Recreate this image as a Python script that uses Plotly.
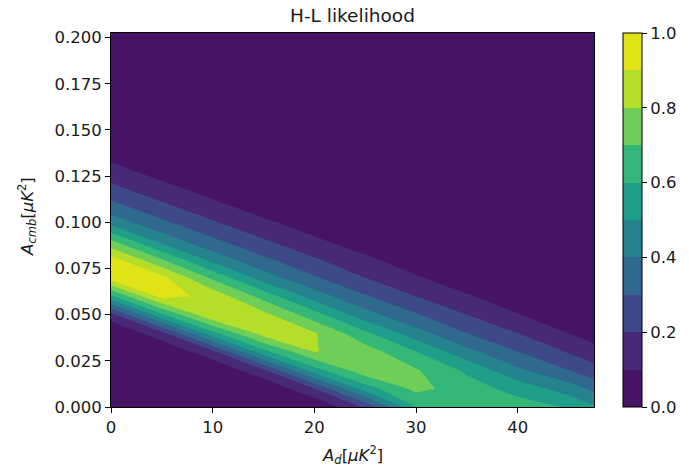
import numpy as np
import plotly.graph_objects as go

# ---- data ----
A_d = [0, 5, 10, 15, 20, 25, 30, 35, 40, 45, 50]                 # x grid
A_cmb = [round(0.01 * j, 2) for j in range(22)]                     # y grid 0.00 .. 0.21

# likelihood profiles, one list per A_d column, listed from A_cmb = 0.00 upward
L_x00 = [0, 0, 0, 0, 0, 0.16, 0.58, 0.95, 0.94, 0.71, 0.46, 0.32, 0.21, 0.12, 0.04, 0, 0, 0, 0, 0, 0, 0]
L_x05 = [0, 0, 0, 0, 0.17, 0.58, 0.94, 0.93, 0.70, 0.46, 0.32, 0.21, 0.12, 0.04, 0, 0, 0, 0, 0, 0, 0, 0]
L_x10 = [0, 0, 0, 0.18, 0.57, 0.895, 0.87, 0.68, 0.46, 0.32, 0.21, 0.12, 0.04, 0, 0, 0, 0, 0, 0, 0, 0, 0]
L_x15 = [0, 0, 0.19, 0.57, 0.85, 0.83, 0.66, 0.45, 0.32, 0.21, 0.12, 0.04, 0, 0, 0, 0, 0, 0, 0, 0, 0, 0]
L_x20 = [0, 0.20, 0.56, 0.805, 0.81, 0.64, 0.45, 0.31, 0.21, 0.12, 0.04, 0, 0, 0, 0, 0, 0, 0, 0, 0, 0, 0]
L_x25 = [0.22, 0.55, 0.77, 0.75, 0.62, 0.44, 0.31, 0.20, 0.12, 0.04, 0, 0, 0, 0, 0, 0, 0, 0, 0, 0, 0, 0]
L_x30 = [0.60, 0.73, 0.71, 0.60, 0.44, 0.31, 0.20, 0.11, 0.04, 0, 0, 0, 0, 0, 0, 0, 0, 0, 0, 0, 0, 0]
L_x35 = [0.67, 0.65, 0.58, 0.43, 0.30, 0.20, 0.11, 0.04, 0, 0, 0, 0, 0, 0, 0, 0, 0, 0, 0, 0, 0, 0]
L_x40 = [0.65, 0.56, 0.42, 0.30, 0.20, 0.105, 0.04, 0, 0, 0, 0, 0, 0, 0, 0, 0, 0, 0, 0, 0, 0, 0]
L_x45 = [0.59, 0.45, 0.30, 0.19, 0.10, 0.03, 0, 0, 0, 0, 0, 0, 0, 0, 0, 0, 0, 0, 0, 0, 0, 0]
L_x50 = [0.44, 0.30, 0.18, 0.09, 0.03, 0, 0, 0, 0, 0, 0, 0, 0, 0, 0, 0, 0, 0, 0, 0, 0, 0]

x_ticks = [0, 10, 20, 30, 40]
y_ticks = [0.0, 0.025, 0.05, 0.075, 0.1, 0.125, 0.15, 0.175, 0.2]
cb_ticks = [0.0, 0.2, 0.4, 0.6, 0.8, 1.0]

columns = [L_x00, L_x05, L_x10, L_x15, L_x20, L_x25, L_x30, L_x35, L_x40, L_x45, L_x50]
z = np.array(columns).T  # rows = A_cmb, cols = A_d

# ---- style ----
band_colors = ["#471365", "#482878", "#3e4989", "#31688e", "#26828e",
               "#1f9e89", "#35b779", "#6ece58", "#b5de2b", "#dfe318"]
start, end, size = 0.0, 1.0, 0.1
n_levels = 11
lo_z, hi_z = start - size / 2, start + (n_levels - 0.5) * size
def s_of(zv):
    return (zv - lo_z) / (hi_z - lo_z)
colorscale = []
for k, c in enumerate(band_colors):
    a = 0.0 if k == 0 else s_of(0.1 * k)
    b = 1.0 if k == len(band_colors) - 1 else s_of(0.1 * (k + 1))
    colorscale.append([a, c])
    colorscale.append([b, c])

FONT = "DejaVu Sans"
TXT = "#1a1a1a"

L, R, T, B = 111, 90, 33, 62
W, H = 689, 469
pw = W - L - R

fig = go.Figure(go.Contour(
    x=A_d, y=A_cmb, z=z,
    zmin=0, zmax=1,
    contours=dict(start=start, end=end, size=size, coloring="fill", showlines=False),
    line=dict(width=0, smoothing=0),
    colorscale=colorscale,
    colorbar=dict(
        thickness=19, thicknessmode="pixels",
        len=1, lenmode="fraction", y=0.5, yanchor="middle",
        x=(628 - L) / pw, xanchor="left", xpad=0, ypad=0,
        outlinewidth=1, outlinecolor="#000000",
        tickvals=cb_ticks, ticktext=[f"{v:.1f}" for v in cb_ticks],
        ticks="outside", ticklen=5, tickwidth=1, tickcolor="#000000",
        tickfont=dict(family=FONT, size=16.5, color=TXT),
    ),
    hoverinfo="skip",
))

axis_common = dict(
    showgrid=False, zeroline=False,
    showline=True, mirror=True, linecolor="#000000", linewidth=1,
    ticks="outside", ticklen=5, tickwidth=1, tickcolor="#000000",
    tickfont=dict(family=FONT, size=16.5, color=TXT),
)

fig.update_layout(
    width=W, height=H,
    margin=dict(l=L, r=R, t=T, b=B, pad=0),
    paper_bgcolor="white", plot_bgcolor="white",
    showlegend=False,
    xaxis=dict(range=[0, 47.5], tickvals=x_ticks, ticktext=[str(v) for v in x_ticks], **axis_common),
    yaxis=dict(range=[0, 0.2025], tickvals=y_ticks, ticktext=[f"{v:.3f}" for v in y_ticks], **axis_common),
    annotations=[
        dict(text="H-L likelihood", xref="paper", yref="paper", x=0.5, y=1,
             xanchor="center", yanchor="middle", yshift=18, showarrow=False,
             font=dict(family=FONT, size=18.5, color=TXT)),
        dict(text="<i>A</i><sub><i>d</i></sub>[<i>μK</i><sup>2</sup>]", xref="paper", yref="paper",
             x=0.5, y=0, xanchor="center", yanchor="middle", yshift=-48, showarrow=False,
             font=dict(family=FONT, size=16.5, color=TXT)),
        dict(text="<i>A</i><sub><i>cmb</i></sub>[<i>μK</i><sup>2</sup>]", xref="paper", yref="paper",
             x=0, y=0.5, xanchor="center", yanchor="middle", xshift=-84, yshift=3,
             textangle=-90, showarrow=False,
             font=dict(family=FONT, size=16.5, color=TXT)),
    ],
)

fig.write_html("out.html")
